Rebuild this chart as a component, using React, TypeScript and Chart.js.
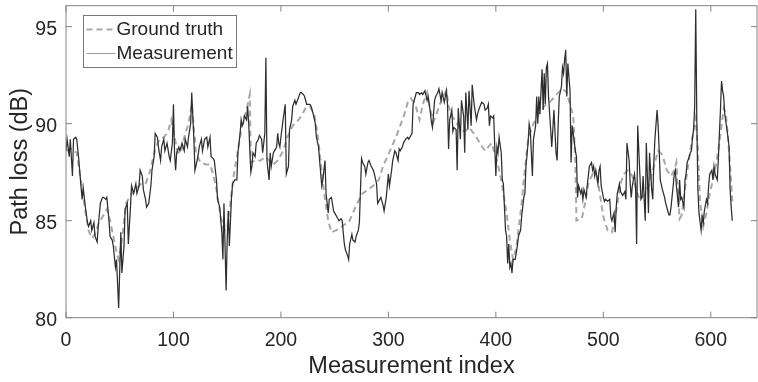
import React, { useEffect, useRef } from "react";
import { Chart, registerables } from "chart.js";

Chart.register(...registerables);

const FONT = "'Liberation Sans', Arial, Helvetica, sans-serif";
const TEXT = "#262626";
const AXIS = "#848484";

const seriesLabels = ["Ground truth", "Measurement"];
const xTitle = "Measurement index";
const yTitle = "Path loss (dB)";
const xTickValues = [0, 100, 200, 300, 400, 500, 600];
const yTickValues = [80, 85, 90, 95];
const xRange = [0, 643];
const yRange = [80, 96.08];

// Measurement trace, indices 0-135
const measIdxA = [
  0, 1, 3, 4, 6, 7, 9, 10, 12, 13,
  15, 16, 18, 20, 21, 23, 24, 26, 27, 29,
  30, 32, 34, 35, 37, 38, 40, 41, 43, 44,
  46, 47, 49, 51, 52, 54, 55, 57, 58, 60,
  61, 63, 65, 66, 68, 69, 71, 72, 74, 75,
  77, 79, 80, 82, 83, 85, 86, 88, 89, 91,
  92, 94, 96, 97, 99, 100, 101, 102, 103, 105,
  106, 108, 110, 111, 113, 114, 116, 117, 119, 120,
  122, 123, 124, 126, 127, 129, 131, 132, 134, 135,
];
const measLossA = [
  88.6, 89.2, 88.3, 89.2, 87.3, 89.2, 89.3, 89.2, 88.1, 87.4,
  86.1, 86.7, 85.7, 84.9, 84.7, 85.0, 84.5, 84.9, 84.2, 83.9,
  84.7, 85.9, 86.2, 86.2, 86.1, 86.2, 85.0, 84.2, 84.0, 83.7,
  82.6, 83.0, 80.5, 84.4, 82.3, 83.7, 85.6, 85.9, 83.8, 85.7,
  86.8, 86.4, 86.9, 86.4, 86.8, 87.6, 87.3, 86.6, 86.1, 85.7,
  85.9, 86.8, 87.6, 88.3, 89.5, 89.3, 88.8, 88.1, 88.8, 89.2,
  88.6, 89.0, 88.3, 88.1, 89.0, 91.0, 88.5, 87.6, 88.5, 88.8,
  88.6, 89.0, 88.6, 89.2, 88.8, 89.3, 90.0, 91.6, 89.2, 87.6,
  88.1, 88.4, 88.8, 89.2, 88.6, 89.2, 89.3, 88.8, 89.3, 88.3,
];

// Measurement trace, indices 137-250
const measIdxB = [
  137, 138, 140, 141, 143, 145, 146, 147, 148, 149,
  150, 151, 152, 154, 155, 157, 159, 160, 162, 163,
  164, 165, 166, 168, 169, 170, 172, 173, 174, 176,
  177, 179, 180, 182, 183, 185, 186, 187, 189, 190,
  191, 193, 194, 196, 197, 198, 199, 200, 202, 204,
  205, 207, 208, 210, 211, 213, 214, 216, 218, 219,
  221, 222, 224, 225, 227, 228, 230, 232, 233, 235,
  236, 238, 239, 241, 242, 244, 245, 247, 249, 250,
];
const measLossB = [
  88.2, 88.1, 87.1, 86.1, 85.7, 84.4, 83.0, 85.9, 83.7, 81.4,
  84.0, 85.5, 83.7, 86.2, 86.9, 87.1, 87.1, 88.5, 89.5, 90.2,
  89.9, 90.0, 90.4, 90.2, 90.9, 90.0, 87.5, 87.8, 88.5, 88.3,
  89.0, 89.2, 89.4, 89.2, 88.5, 89.5, 93.4, 88.1, 87.1, 88.5,
  87.8, 88.5, 88.6, 88.8, 89.5, 89.0, 88.8, 89.3, 90.2, 91.0,
  87.4, 87.8, 89.7, 90.2, 90.9, 91.2, 91.0, 91.3, 91.6, 91.6,
  91.5, 91.4, 91.0, 91.0, 91.0, 90.9, 90.5, 90.0, 89.3, 88.8,
  88.1, 86.8, 87.1, 88.1, 86.4, 85.4, 86.1, 86.2, 85.5, 85.4,
];

// Measurement trace, indices 252-384
const measIdxC = [
  252, 254, 256, 257, 259, 260, 262, 263, 264, 266,
  267, 269, 270, 272, 273, 275, 276, 278, 279, 281,
  282, 284, 286, 287, 289, 290, 292, 293, 295, 296,
  298, 300, 301, 303, 304, 306, 307, 309, 310, 311,
  313, 314, 316, 318, 319, 321, 322, 323, 325, 326,
  328, 329, 331, 332, 334, 336, 337, 339, 340, 341,
  343, 344, 346, 347, 349, 350, 352, 354, 355, 356,
  357, 359, 360, 361, 363, 364, 365, 367, 368, 370,
  371, 372, 374, 375, 377, 378, 380, 382, 383, 384,
];
const measLossC = [
  85.2, 85.0, 85.1, 85.0, 83.8, 83.5, 83.2, 83.0, 83.8, 84.3,
  84.0, 83.9, 84.2, 84.5, 84.9, 88.2, 88.0, 87.8, 87.4, 88.0,
  88.1, 87.8, 87.6, 87.4, 86.9, 85.9, 86.1, 86.2, 85.8, 85.5,
  86.2, 87.4, 86.8, 87.6, 88.1, 88.6, 88.5, 88.1, 88.7, 88.6,
  88.8, 89.0, 89.2, 89.3, 89.2, 89.4, 89.5, 91.0, 91.4, 91.6,
  91.6, 91.5, 91.6, 91.5, 91.7, 91.2, 91.4, 90.6, 90.1, 89.8,
  91.2, 91.4, 91.6, 91.8, 91.2, 91.6, 91.1, 91.7, 91.0, 88.7,
  90.2, 90.7, 89.6, 89.8, 89.7, 87.6, 90.8, 89.2, 91.2, 90.4,
  88.5, 91.6, 89.7, 91.7, 89.9, 92.0, 90.9, 90.2, 90.5, 90.7,
];

// Measurement trace, indices 386-510
const measIdxD = [
  386, 387, 389, 390, 392, 393, 394, 395, 397, 398,
  399, 400, 401, 402, 403, 405, 406, 407, 408, 409,
  410, 411, 412, 413, 414, 415, 416, 418, 420, 421,
  423, 424, 426, 427, 428, 430, 431, 432, 434, 435,
  437, 438, 439, 440, 441, 443, 444, 445, 446, 447,
  448, 449, 451, 452, 453, 454, 456, 457, 458, 459,
  461, 462, 463, 464, 465, 466, 467, 469, 470, 471,
  472, 474, 475, 476, 477, 479, 480, 481, 482, 484,
  485, 486, 487, 489, 490, 491, 492, 493, 495, 496,
  497, 498, 500, 501, 502, 504, 506, 507, 508, 510,
];
const measLossD = [
  91.0, 91.1, 91.0, 90.7, 90.8, 91.0, 89.9, 90.4, 90.3, 90.4,
  88.8, 87.3, 88.8, 88.5, 89.3, 88.5, 87.1, 86.9, 85.7, 84.5,
  84.2, 82.8, 83.8, 82.6, 82.8, 82.3, 83.0, 83.0, 83.7, 84.2,
  84.5, 85.2, 86.2, 86.4, 87.8, 89.0, 90.0, 89.7, 87.3, 89.2,
  89.9, 91.4, 90.0, 91.4, 90.5, 92.8, 90.7, 92.6, 91.0, 92.9,
  93.1, 91.4, 89.7, 88.8, 89.7, 90.7, 88.5, 88.1, 90.0, 91.4,
  91.9, 92.9, 92.6, 93.3, 93.8, 91.4, 93.1, 91.7, 88.0, 89.9,
  89.5, 88.6, 88.3, 86.2, 86.8, 86.4, 86.6, 86.1, 86.6, 86.2,
  86.8, 87.3, 87.8, 88.0, 87.6, 87.8, 87.3, 87.6, 86.9, 87.6,
  87.8, 86.8, 86.2, 86.0, 86.1, 86.0, 86.1, 85.2, 85.0, 85.4,
];

// Measurement trace, indices 511-620
const measIdxE = [
  511, 512, 513, 515, 516, 517, 518, 520, 521, 522,
  524, 525, 526, 527, 529, 530, 531, 532, 534, 535,
  536, 537, 539, 540, 541, 542, 543, 545, 546, 547,
  548, 550, 551, 552, 553, 555, 556, 557, 558, 560,
  561, 562, 563, 565, 566, 567, 568, 570, 571, 572,
  573, 575, 576, 577, 578, 580, 581, 582, 583, 584,
  585, 586, 587, 588, 589, 591, 592, 593, 594, 596,
  597, 598, 599, 601, 602, 603, 604, 606, 607, 608,
  609, 610, 611, 612, 613, 615, 616, 617, 618, 619,
  620,
];
const measLossE = [
  84.4, 85.7, 86.4, 86.9, 86.5, 86.4, 86.3, 86.5, 86.1, 89.0,
  88.1, 86.9, 86.2, 86.8, 87.4, 86.8, 83.8, 89.9, 87.4, 86.1,
  86.2, 87.3, 85.0, 89.0, 87.3, 85.4, 88.5, 86.6, 86.1, 88.0,
  89.2, 90.7, 89.9, 88.6, 87.1, 86.6, 86.4, 86.2, 85.9, 85.5,
  85.3, 85.3, 85.7, 86.8, 87.4, 87.6, 86.8, 85.7, 87.1, 86.1,
  86.2, 85.7, 87.1, 87.4, 88.0, 88.3, 88.5, 88.6, 89.3, 89.7,
  90.9, 95.9, 90.2, 86.6, 85.4, 84.5, 85.2, 84.9, 85.5, 86.1,
  85.9, 86.8, 87.4, 87.6, 87.1, 87.8, 87.4, 87.1, 88.1, 89.5,
  90.7, 92.2, 91.7, 91.4, 90.5, 89.7, 89.3, 88.8, 86.6, 85.7,
  85.0,
];

// Ground truth, indices 0-336
const truthIdxA = [
  0, 5, 10, 14, 18, 21, 24, 27, 30, 34,
  38, 41, 44, 47, 49, 52, 56, 61, 66, 70,
  74, 78, 83, 87, 91, 95, 98, 101, 104, 107,
  110, 114, 117, 121, 125, 130, 134, 137, 140, 144,
  147, 150, 153, 156, 159, 164, 168, 171, 172, 176,
  181, 186, 190, 193, 197, 202, 206, 211, 215, 219,
  223, 227, 231, 234, 237, 240, 244, 247, 251, 255,
  259, 263, 267, 271, 276, 281, 286, 291, 295, 299,
  303, 307, 311, 315, 318, 321, 325, 329, 332, 336,
];
const truthLossA = [
  88.6, 88.7, 88.5, 87.0, 85.5, 84.5, 84.1, 84.3, 84.8, 85.2,
  85.6, 85.0, 84.2, 83.4, 83.0, 84.0, 85.9, 86.4, 86.7, 86.9,
  86.9, 87.5, 88.7, 89.2, 89.3, 89.6, 90.2, 89.3, 88.5, 88.5,
  89.3, 90.0, 91.0, 88.5, 88.0, 87.9, 87.9, 87.4, 86.6, 85.2,
  84.5, 84.6, 85.9, 87.3, 88.3, 90.0, 90.7, 91.5, 88.0, 88.1,
  88.1, 88.3, 88.0, 87.9, 88.1, 88.6, 89.3, 89.9, 90.1, 90.4,
  90.8, 90.9, 90.5, 89.5, 88.0, 86.5, 85.0, 84.4, 84.5, 84.6,
  84.8, 84.9, 85.4, 85.9, 86.4, 86.6, 86.8, 87.1, 87.8, 88.3,
  88.8, 89.3, 89.9, 90.5, 91.1, 91.3, 91.0, 90.2, 91.0, 91.6,
];

// Ground truth, indices 339-620
const truthIdxB = [
  339, 342, 346, 350, 354, 356, 359, 363, 367, 371,
  375, 378, 382, 386, 390, 393, 396, 400, 404, 407,
  410, 413, 416, 419, 421, 424, 426, 430, 435, 440,
  445, 450, 455, 458, 462, 466, 469, 472, 474, 475,
  480, 483, 486, 490, 494, 497, 500, 504, 508, 512,
  516, 519, 523, 527, 531, 534, 538, 542, 547, 551,
  555, 559, 563, 566, 568, 570, 571, 573, 575, 577,
  580, 583, 586, 588, 590, 593, 596, 599, 602, 605,
  608, 610, 612, 614, 616, 618, 620,
];
const truthLossB = [
  90.7, 90.1, 90.7, 91.3, 91.7, 90.9, 90.4, 90.1, 89.7, 89.6,
  89.8, 89.6, 89.3, 88.9, 88.6, 88.8, 89.0, 88.3, 87.4, 86.4,
  85.4, 84.0, 83.0, 83.6, 84.5, 85.9, 87.1, 89.2, 90.0, 90.5,
  90.9, 91.1, 91.4, 91.6, 91.8, 91.6, 91.0, 90.4, 88.0, 85.0,
  85.1, 85.9, 86.9, 87.4, 87.3, 86.3, 85.2, 84.5, 84.4, 85.5,
  86.9, 87.4, 87.6, 87.3, 86.5, 86.1, 86.3, 86.8, 87.8, 88.6,
  88.4, 87.6, 87.3, 87.6, 88.0, 86.0, 85.1, 85.3, 86.2, 87.1,
  88.3, 89.3, 90.3, 88.6, 86.0, 84.7, 85.4, 86.4, 87.1, 87.9,
  89.0, 89.9, 90.8, 90.5, 89.3, 87.8, 86.0,
];

const measIdx = [...measIdxA, ...measIdxB, ...measIdxC, ...measIdxD, ...measIdxE];
const measLoss = [...measLossA, ...measLossB, ...measLossC, ...measLossD, ...measLossE];
const truthIdx = [...truthIdxA, ...truthIdxB];
const truthLoss = [...truthLossA, ...truthLossB];

const pairUp = (xs: number[], ys: number[]) =>
  xs.slice(0, Math.min(xs.length, ys.length)).map((x, i) => ({ x, y: ys[i] }));

const TRUTH_COLOR = "#a8a8a8";
const MEAS_COLOR = "#2e2e2e";

// Box around the plot area with inward-pointing ticks on all four sides
const frameTicksPlugin = {
  id: "frameTicks",
  afterDatasetsDraw(chart: any) {
    const { ctx, chartArea: a, scales } = chart;
    const len = 6;
    ctx.save();
    ctx.strokeStyle = AXIS;
    ctx.lineWidth = 1;
    ctx.strokeRect(a.left, a.top, a.right - a.left, a.bottom - a.top);
    ctx.beginPath();
    for (const v of xTickValues) {
      const px = scales.x.getPixelForValue(v);
      ctx.moveTo(px, a.bottom);
      ctx.lineTo(px, a.bottom - len);
      ctx.moveTo(px, a.top);
      ctx.lineTo(px, a.top + len);
    }
    for (const v of yTickValues) {
      const py = scales.y.getPixelForValue(v);
      ctx.moveTo(a.left, py);
      ctx.lineTo(a.left + len, py);
      ctx.moveTo(a.right, py);
      ctx.lineTo(a.right - len, py);
    }
    ctx.stroke();
    ctx.restore();
  },
};

// Boxed legend in the upper-left corner of the plot area
const boxLegendPlugin = {
  id: "boxLegend",
  afterDraw(chart: any) {
    const { ctx, chartArea: a } = chart;
    const x0 = Math.round(a.left + 17) + 0.5;
    const y0 = Math.round(a.top + 9) + 0.5;
    const w = 153;
    const h = 52;
    ctx.save();
    ctx.fillStyle = "#ffffff";
    ctx.fillRect(x0, y0, w, h);
    ctx.strokeStyle = "#7a7a7a";
    ctx.lineWidth = 1;
    ctx.strokeRect(x0, y0, w, h);

    const rows = [
      { label: seriesLabels[0], color: TRUTH_COLOR, width: 2, dash: [6, 4] },
      { label: seriesLabels[1], color: "#9a9a9a", width: 1, dash: [] as number[] },
    ];
    ctx.font = `19px ${FONT}`;
    ctx.textBaseline = "middle";
    ctx.textAlign = "left";
    rows.forEach((r, i) => {
      const ly = y0 + 14 + i * 24;
      ctx.beginPath();
      ctx.setLineDash(r.dash);
      ctx.strokeStyle = r.color;
      ctx.lineWidth = r.width;
      ctx.moveTo(x0 + 3, ly);
      ctx.lineTo(x0 + 32, ly);
      ctx.stroke();
      ctx.setLineDash([]);
      ctx.fillStyle = TEXT;
      ctx.fillText(r.label, x0 + 33, ly + 0.5);
    });
    ctx.restore();
  },
};

export default function App() {
  const canvasRef = useRef<HTMLCanvasElement | null>(null);

  useEffect(() => {
    const canvas = canvasRef.current;
    if (!canvas) return;
    const chart = new Chart(canvas, {
      type: "line",
      data: {
        datasets: [
          {
            label: seriesLabels[0],
            data: pairUp(truthIdx, truthLoss),
            borderColor: TRUTH_COLOR,
            borderWidth: 2,
            borderDash: [6, 4],
            pointRadius: 0,
            tension: 0,
            fill: false,
            order: 1,
          },
          {
            label: seriesLabels[1],
            data: pairUp(measIdx, measLoss),
            borderColor: MEAS_COLOR,
            borderWidth: 1.25,
            pointRadius: 0,
            tension: 0,
            fill: false,
            order: 0,
          },
        ],
      },
      options: {
        responsive: false,
        animation: false,
        devicePixelRatio: 1,
        layout: { padding: { left: 0, right: 1, top: 5.7, bottom: 0 } },
        plugins: {
          legend: { display: false },
          tooltip: { enabled: false },
        },
        scales: {
          x: {
            type: "linear",
            min: xRange[0],
            max: xRange[1],
            grid: { display: false, drawTicks: false },
            border: { display: false },
            afterBuildTicks: (s: any) => {
              s.ticks = xTickValues.map((v) => ({ value: v }));
            },
            afterFit: (s: any) => {
              s.height = 64.3;
              s.paddingLeft = 0;
              s.paddingRight = 0;
            },
            ticks: {
              padding: 10.8,
              color: TEXT,
              maxRotation: 0,
              autoSkip: false,
              font: { family: FONT, size: 19.5 },
            },
            title: {
              display: true,
              text: xTitle,
              color: TEXT,
              font: { family: FONT, size: 23.5 },
              padding: { top: 0, bottom: 1 },
            },
          },
          y: {
            type: "linear",
            min: yRange[0],
            max: yRange[1],
            grid: { display: false, drawTicks: false },
            border: { display: false },
            afterBuildTicks: (s: any) => {
              s.ticks = yTickValues.map((v) => ({ value: v }));
            },
            afterFit: (s: any) => {
              s.width = 66;
              s.paddingTop = 0;
              s.paddingBottom = 0;
            },
            ticks: {
              padding: 9,
              labelOffset: 2.5,
              color: TEXT,
              font: { family: FONT, size: 19.5 },
            },
            title: {
              display: true,
              text: yTitle,
              color: TEXT,
              font: { family: FONT, size: 23.5 },
              padding: { top: 6, bottom: 0 },
            },
          },
        },
      },
      plugins: [frameTicksPlugin, boxLegendPlugin],
    } as any);
    return () => chart.destroy();
  }, []);

  return (
    <div
      style={{
        position: "fixed",
        left: 0,
        top: 0,
        width: 758,
        height: 382,
        background: "#ffffff",
      }}
    >
      <canvas
        ref={canvasRef}
        width={758}
        height={382}
        style={{ display: "block", width: "758px", height: "382px" }}
      />
    </div>
  );
}
